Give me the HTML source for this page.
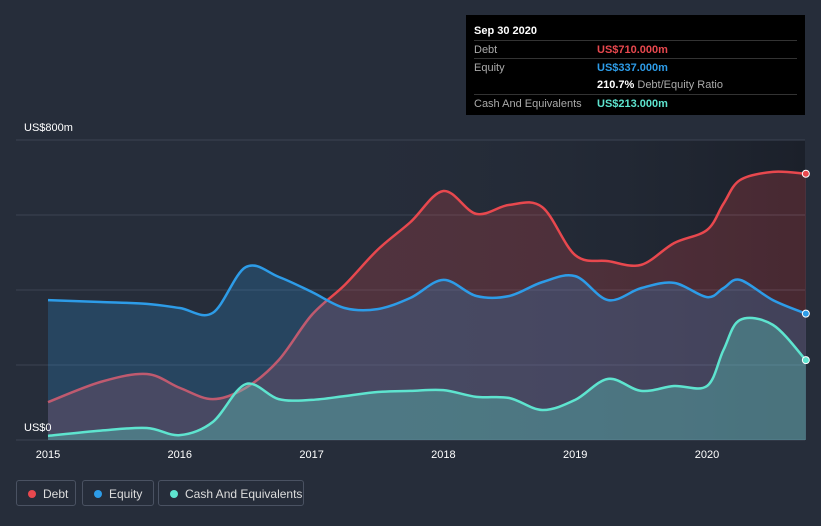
<!DOCTYPE html>
<html><head><meta charset="utf-8">
<style>
body{margin:0;background:#262d3a;font-family:"Liberation Sans",sans-serif;}
#wrap{position:relative;width:821px;height:526px;overflow:hidden;background:#262d3a;}
.tt{position:absolute;left:466px;top:15px;width:339px;height:100px;background:#000;color:#fff;font-size:11px;}
.tt .row{position:absolute;left:8px;right:8px;height:18px;border-top:1px solid #333;}
.tt .l{position:absolute;left:0;top:3px;color:#aaa;}
.tt .v{position:absolute;left:123px;top:3px;font-weight:bold;}
.leg{position:absolute;top:480px;height:26px;border:1px solid #4a5262;border-radius:3px;color:#ddd;font-size:12px;line-height:26px;box-sizing:border-box;padding-left:26px;}
.leg i{position:absolute;left:11px;top:9px;width:8px;height:8px;border-radius:50%;}
</style></head><body>
<div id="wrap">
<svg id="svg" width="821" height="526" style="position:absolute;left:0;top:0">
<defs>
<linearGradient id="bg" x1="0" x2="1" y1="0" y2="0"><stop offset="0" stop-color="#262d3a" stop-opacity="0"/><stop offset="1" stop-color="#1b202a"/></linearGradient>
</defs>
<rect x="313" y="140" width="492" height="300" fill="url(#bg)"/>
<g id="grid"></g><g id="areas"></g><g id="xt"></g>
</svg>
<div style="position:absolute;left:24px;top:122px;color:#fff;font-size:11px">US$800m</div>
<div style="position:absolute;left:24px;top:422px;color:#fff;font-size:11px">US$0</div>
<div class="tt">
<div style="position:absolute;left:8px;top:10px;font-weight:bold">Sep 30 2020</div>
<div class="row" style="top:25px"><span class="l">Debt</span><span class="v" style="color:#e8484e">US$710.000m</span></div>
<div class="row" style="top:43px"><span class="l">Equity</span><span class="v" style="color:#2d9ce8">US$337.000m</span></div>
<div class="row" style="top:61px;border-top:none"><span class="v" style="color:#fff">210.7% <span style="color:#aaa;font-weight:normal">Debt/Equity Ratio</span></span></div>
<div class="row" style="top:79px"><span class="l">Cash And Equivalents</span><span class="v" style="color:#5ee4cf">US$213.000m</span></div>
</div>
<div class="leg" style="left:16px;width:60px"><i style="background:#e8484e"></i>Debt</div>
<div class="leg" style="left:82px;width:72px"><i style="background:#2d9ce8"></i>Equity</div>
<div class="leg" style="left:158px;width:146px"><i style="background:#5ee4cf"></i>Cash And Equivalents</div>
</div>
<script>
const dates=[2015,2015.4,2015.75,2016,2016.25,2016.5,2016.75,2017,2017.25,2017.5,2017.75,2018,2018.25,2018.5,2018.75,2019,2019.25,2019.5,2019.75,2020,2020.125,2020.25,2020.5,2020.75];
const debt=[101,155,176,139,109,139,213,333,413,507,581,664,603,627,621,493,477,467,525,560,630,693,715,710];
const equity=[373,368,363,352,339,461,435,395,352,349,379,427,384,384,421,437,373,405,419,381,405,427,373,337];
const cash=[11,25,32,13,48,149,109,107,117,128,131,133,115,112,80,107,163,131,144,144,240,320,307,213];
const xTicks=[2015,2016,2017,2018,2019,2020];
const yGrid=[0,200,400,600,800];
const X=d=>48+(d-2015)*131.8, Y=v=>440-v*0.375;
const NS="http://www.w3.org/2000/svg";
function mk(t,a,p){const e=document.createElementNS(NS,t);for(const k in a)e.setAttribute(k,a[k]);p.appendChild(e);return e;}
const grid=document.getElementById('grid');
yGrid.forEach(v=>{const l=mk('line',{x1:16,x2:805,y1:Y(v),y2:Y(v),stroke:'#3c4453','stroke-width':1},grid);

});
const xt=document.getElementById('xt');
xTicks.forEach(d=>{const t=mk('text',{x:X(d),y:458,fill:'#fff','font-size':11,'text-anchor':'middle','font-family':'Liberation Sans'},xt);t.textContent=d;

});
function path(vals){const p=vals.map((v,i)=>[X(dates[i]),Y(v)]);let s='M'+p[0][0]+','+p[0][1];
for(let i=0;i<p.length-1;i++){const p0=p[Math.max(0,i-1)],p1=p[i],p2=p[i+1],p3=p[Math.min(p.length-1,i+2)];const k=6;
s+=' C'+(p1[0]+(p2[0]-p0[0])/k)+','+(p1[1]+(p2[1]-p0[1])/k)+' '+(p2[0]-(p3[0]-p1[0])/k)+','+(p2[1]-(p3[1]-p1[1])/k)+' '+p2[0]+','+p2[1];}return s;}
const areas=document.getElementById('areas');
[[debt,'#e8484e','rgba(232,72,78,0.22)','debt'],[equity,'#2d9ce8','rgba(45,156,232,0.22)','equity'],[cash,'#5ee4cf','rgba(94,228,207,0.3)','cash']].forEach(([vals,c,f,n])=>{
const d=path(vals);
const a=mk('path',{d:d+' L'+X(dates[dates.length-1])+','+Y(0)+' L'+X(dates[0])+','+Y(0)+'Z',fill:f},areas);


const l=mk('path',{d:d,fill:'none',stroke:c,'stroke-width':2.5},areas);


const ci=mk('circle',{cx:X(dates[dates.length-1]),cy:Y(vals[vals.length-1]),r:3.5,fill:c,stroke:'#fff','stroke-width':1},areas);

});
</script>
</body></html>
